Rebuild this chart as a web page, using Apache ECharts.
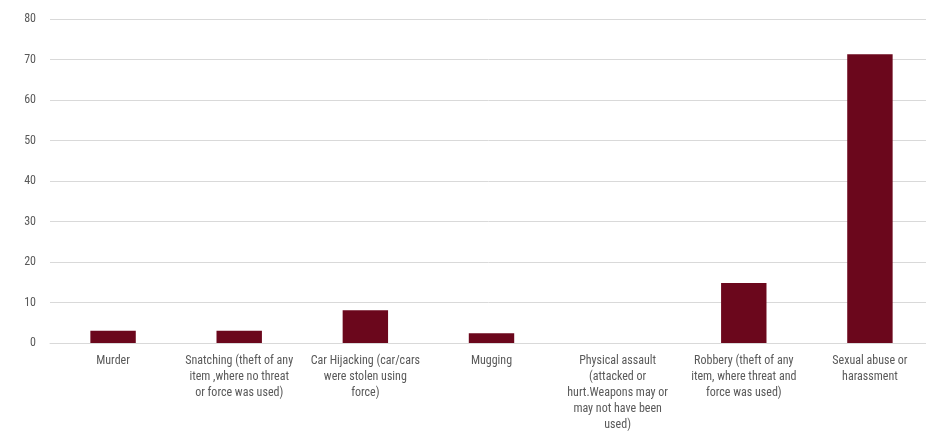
<!DOCTYPE html>
<html><head><meta charset="utf-8">
<script src="https://cdn.jsdelivr.net/npm/echarts@6/dist/echarts.min.js"></script>
<style>html,body{margin:0;padding:0;background:#fff}#c{width:926px;height:433px}</style>
</head><body><div id="c"></div>
<script>
const categories = [
  "Murder",
  "Snatching (theft of any\nitem ,where no threat\nor force was used)",
  "Car Hijacking (car/cars\nwere stolen using\nforce)",
  "Mugging",
  "Physical assault\n(attacked or\nhurt.Weapons may or\nmay not have been\nused)",
  "Robbery (theft of any\nitem, where threat and\nforce was used)",
  "Sexual abuse or\nharassment"
];
const values = [3, 3, 8.1, 2.4, 0, 14.8, 71.3];
const yTicks = [0, 10, 20, 30, 40, 50, 60, 70, 80];
const font = '"Liberation Sans Narrow", "Roboto Condensed", "Liberation Sans", sans-serif';
const chart = echarts.init(document.getElementById('c'));
chart.setOption({
  animation: false,
  grid: {left: 50, right: -7, top: 19, bottom: 90, outerBoundsMode: 'none'},
  xAxis: {
    type: 'category', data: categories,
    axisLine: {show: true, lineStyle: {color: '#d9d9d9', width: 1}},
    axisTick: {show: false},
    axisLabel: {interval: 0, color: '#595959', fontFamily: font, fontSize: 12, lineHeight: 16, margin: 10}
  },
  yAxis: {
    type: 'value', min: yTicks[0], max: yTicks[yTicks.length - 1], interval: 10,
    axisLine: {show: false}, axisTick: {show: false},
    splitLine: {lineStyle: {color: '#d9d9d9', width: 1}},
    axisLabel: {color: '#595959', fontFamily: font, fontSize: 12, margin: 14}
  },
  series: [{
    type: 'bar', data: values, barWidth: '36%',
    itemStyle: {color: '#6b071c'}
  }]
});
</script></body></html>
